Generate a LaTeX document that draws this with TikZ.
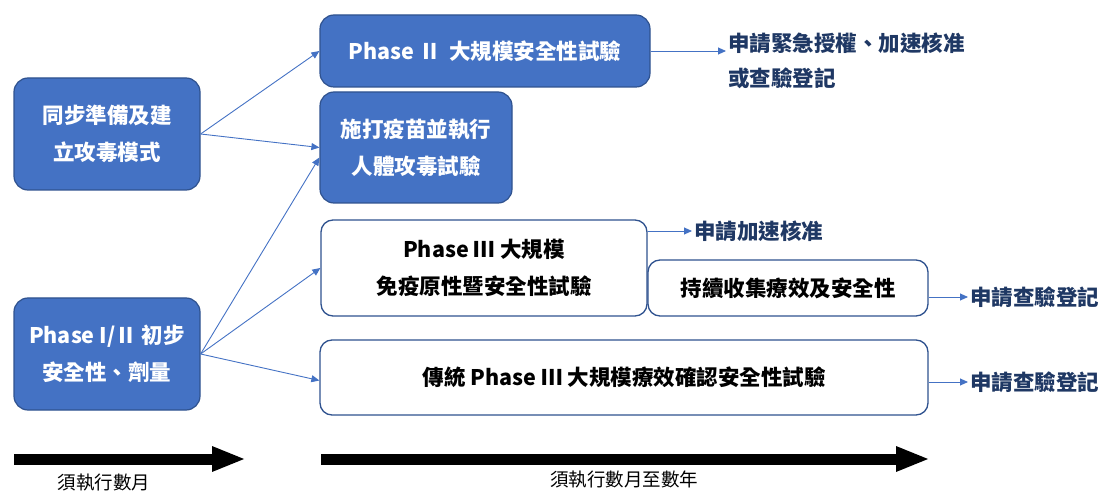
\documentclass[tikz,border=0pt]{standalone}
\usepackage{fontspec}
\setmainfont{Noto Sans CJK TC}
\usetikzlibrary{positioning,arrows.meta}
\definecolor{boxblue}{HTML}{4472C4}
\definecolor{edgeblue}{HTML}{2F528F}
\definecolor{navy}{HTML}{1F3864}

\begin{document}
\begin{tikzpicture}[x=1pt, y=-1pt,
    bluebox/.style={draw=edgeblue, fill=boxblue, text=white, line width=1.2pt,
      rounded corners=14pt, align=center, inner sep=0pt,
      font=\fontsize{21.5}{37}\selectfont\bfseries},
    whitebox/.style={draw=edgeblue, fill=white, text=black, line width=1.3pt,
      rounded corners=12pt, align=center, inner sep=0pt,
      font=\fontsize{21.5}{37}\selectfont\bfseries},
    result/.style={text=navy, align=left, inner sep=2pt, anchor=west,
      font=\fontsize{21.5}{35}\selectfont\bfseries},
    link/.style={draw=boxblue, line width=0.9pt, -{Triangle[length=8pt,width=7pt]}},
    span/.style={line width=11pt, -{Triangle[length=34pt,width=23pt]}},
    spantext/.style={font=\fontsize{18.5}{20}\selectfont, text=black}]
  \useasboundingbox (0,0) rectangle (1114,494);

  % left column
  \node[bluebox, minimum width=186pt, minimum height=112pt] (prep) at (107,134) {同步準備及建\\立攻毒模式};
  \node[bluebox, minimum width=186pt, minimum height=112pt] (early) at (107,354) {Phase I/Ⅱ 初步\\安全性、劑量};

  % middle column
  \node[bluebox, minimum width=330pt, minimum height=72pt] (safety) at (485,51) {Phase Ⅱ\, 大規模安全性試驗};
  \node[bluebox, minimum width=192pt, minimum height=111pt] (challenge) at (416,147.5) {施打疫苗並執行\\人體攻毒試驗};
  \node[whitebox, minimum width=326pt, minimum height=96pt] (immuno) at (484,268) {Phase Ⅲ 大規模\\免疫原性暨安全性試驗};
  \node[whitebox, minimum width=280pt, minimum height=56pt] (follow) at (788,288) {持續收集療效及安全性};
  \node[whitebox, minimum width=608pt, minimum height=75pt] (classic) at (624,377.5) {傳統 Phase Ⅲ 大規模療效確認安全性試驗};

  % outcomes
  \node[result] (emerg) at (726,61) {申請緊急授權、加速核准\\或查驗登記};
  \node[result] (fast) at (692,231) {申請加速核准};
  \node[result] (reg1) at (968,297) {申請查驗登記};
  \node[result] (reg2) at (968,382) {申請查驗登記};

  \draw[link] (prep.east) -- (safety.west);
  \draw[link] (prep.east) -- (challenge.west);
  \draw[link] (early.east) -- ([yshift=-10pt]challenge.west);
  \draw[link] (early.east) -- (immuno.west);
  \draw[link] (early.east) -- ([yshift=-3pt]classic.west);
  \draw[link] (safety.east) -- (safety.east -| emerg.west);
  \draw[link] (immuno.east |- fast.west) -- (fast.west);
  \draw[link] (follow.east |- reg1.west) -- (reg1.west);
  \draw[link] (classic.east |- reg2.west) -- (reg2.west);

  % time spans
  \coordinate (monthsA) at (14,459);
  \coordinate (monthsB) at (246,459);
  \coordinate (yearsA) at (321,459);
  \coordinate (yearsB) at (930,459);
  \draw[span] (monthsA) -- (monthsB);
  \draw[span] (yearsA) -- (yearsB);
  \node[spantext] (months) at (104,483) {須執行數月};
  \node[spantext] (years) at (624,479) {須執行數月至數年};
\end{tikzpicture}
\end{document}
